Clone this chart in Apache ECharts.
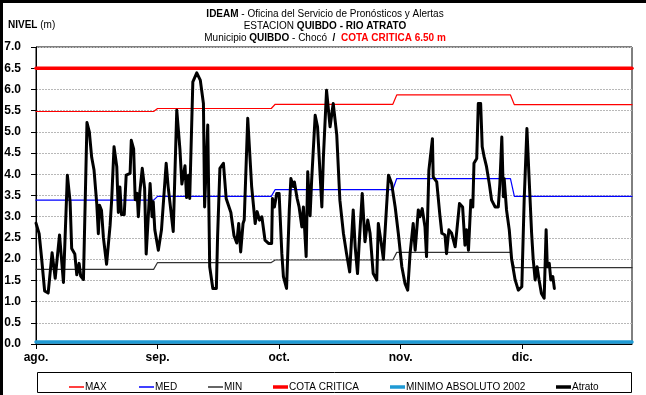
<!DOCTYPE html>
<html>
<head>
<meta charset="utf-8">
<script src="https://cdn.jsdelivr.net/npm/echarts@6/dist/echarts.min.js"></script>
<style>
  html, body { margin: 0; padding: 0; background: #fff; }
  #chart { width: 646px; height: 395px; }
</style>
</head>
<body>
<div id="chart"></div>
<script>
// Axis labels: one label every 31 days, starting 1 August
const monthLabels = ['ago.', 'sep.', 'oct.', 'nov.', 'dic.'];
const monthTickDay = [0, 31, 62, 93, 124];
const axisEndDay = 152;

// Monthly reference levels (m), first and last day of each month
const monthFirstDay = [0, 31, 61, 92, 122];
const monthLastDay = [30, 60, 91, 121, 152];
const maxLevel = [5.48, 5.55, 5.65, 5.87, 5.64];
const medLevel = [3.39, 3.48, 3.64, 3.90, 3.48];
const minLevel = [1.76, 1.92, 1.98, 2.16, 1.80];

const criticalLevel = 6.5;
const absoluteMin2002 = 0.05;

// Río Atrato readings at Quibdó: day offset from 1 August, level in m
const atratoDay = [
  0, 0.8, 1.4, 2.2, 3.1, 4.1, 4.9, 6.0, 7.0, 8.0, 8.7, 9.1, 9.9, 10.4, 11.0, 11.4, 12.1,
  13.0, 13.6, 14.2, 14.8, 15.5, 15.9, 16.2, 16.7, 17.2, 18.0, 18.9, 19.3, 19.9, 20.6, 21.0,
  21.4, 21.8, 22.5, 23.0, 24.0, 24.3, 24.9, 25.3, 25.8, 26.1, 26.5, 27.1, 27.7, 28.1, 29.1,
  29.6, 29.9, 30.3, 31.2, 32.0, 33.2, 33.7, 35.0, 35.9, 36.7, 37.2, 38.0, 38.4, 38.9, 39.2,
  40.0, 41.0, 41.9, 42.7, 43.0, 43.8, 44.3, 45.1, 46.0, 46.3, 46.9, 47.8, 48.5, 49.7, 50.5,
  51.2, 51.7, 52.2, 52.8, 53.1, 54.0, 55.0, 55.9, 56.4, 57.0, 57.6, 58.4, 59.3, 60.1, 60.3,
  60.8, 61.4, 62.0, 62.7, 63.1, 63.9, 64.6, 65.0, 65.6, 65.9, 66.6, 67.1, 67.8, 68.2, 68.9,
  69.3, 69.9, 70.3, 71.2, 71.8, 72.9, 73.3, 74.1, 75.0, 75.8, 76.7, 77.5, 78.4, 79.2, 80.0,
  80.9, 81.4, 82.0, 82.4, 83.2, 83.9, 84.6, 85.2, 86.0, 86.9, 87.3, 88.0, 88.6, 89.4, 89.9,
  90.7, 91.6, 92.4, 93.3, 94.1, 94.8, 95.4, 96.2, 96.7, 97.5, 97.9, 98.5, 99.2, 99.6, 100.2,
  101.1, 101.3, 102.2, 103.0, 103.5, 104.3, 104.7, 105.3, 106.0, 106.4, 106.9, 107.3, 108.0,
  108.8, 109.4, 109.8, 110.3, 110.9, 111.4, 111.7, 112.4, 112.8, 113.4, 113.8, 114.3, 114.9,
  115.6, 116.2, 117.1, 117.9, 118.3, 118.8, 119.2, 119.4, 120.0, 120.7, 121.3, 122.2, 123.0,
  123.9, 124.5, 125.2, 125.7, 126.4, 126.8, 127.3, 127.8, 128.3, 128.9, 129.6, 130.1, 130.4,
  130.9, 131.3, 131.8, 132.2
];
const atratoLevel = [
  2.85, 2.60, 2.05, 1.25, 1.20, 2.15, 1.55, 2.57, 1.45, 3.98, 3.35, 2.25, 2.12, 1.63, 1.90, 1.60, 1.52,
  5.22, 5.00, 4.40, 4.10, 3.30, 2.60, 3.27, 3.15, 2.50, 1.88, 2.80, 3.40, 4.65, 4.18, 3.10,
  3.70, 3.05, 3.05, 3.98, 4.02, 4.80, 4.60, 3.40, 3.55, 3.00, 3.60, 4.14, 3.67, 2.12, 3.78,
  3.00, 3.35, 2.69, 2.21, 2.69, 4.26, 3.71, 2.65, 5.51, 4.60, 3.77, 4.20, 3.45, 3.98, 3.43,
  6.18, 6.39, 6.22, 5.67, 3.23, 5.16, 1.82, 1.31, 1.31, 2.50, 4.14, 4.26, 3.43, 3.10, 2.55,
  2.38, 2.84, 2.17, 2.84, 2.92, 5.32, 3.71, 2.84, 3.12, 2.92, 3.00, 2.45, 2.37, 2.37, 3.43,
  3.23, 3.55, 3.55, 2.13, 1.59, 1.31, 3.16, 3.90, 3.71, 3.82, 3.43, 3.23, 2.76, 3.23, 2.06,
  4.06, 3.02, 3.86, 5.39, 5.12, 3.23, 4.41, 5.98, 5.12, 5.67, 4.93, 3.39, 2.61, 2.13, 1.70,
  3.16, 2.29, 1.66, 2.33, 3.55, 2.41, 2.92, 2.61, 1.66, 1.51, 2.84, 2.41, 2.00, 3.23, 3.98,
  3.78, 3.23, 2.61, 1.82, 1.43, 1.27, 2.13, 2.84, 2.21, 3.16, 3.00, 3.19, 2.76, 2.06, 4.10,
  4.84, 3.94, 3.82, 3.04, 2.61, 2.57, 2.13, 2.69, 2.61, 2.57, 2.29, 2.65, 3.31,
  3.23, 2.33, 2.69, 2.21, 3.39, 3.23, 4.26, 4.37, 5.67, 5.67, 4.65, 4.41, 4.18,
  3.78, 3.39, 3.23, 3.23, 3.78, 4.88, 3.47, 3.90, 3.16, 2.69, 2.00, 1.51, 1.27,
  1.35, 3.39, 5.08, 4.02, 2.61, 2.00, 1.51, 1.82, 1.51, 1.19, 1.08, 2.69, 1.82,
  1.90, 1.51, 1.59, 1.31
];

const FONT = '"Liberation Sans", Arial, sans-serif';

function monthlySteps(values) {
  const pts = [];
  values.forEach((v, m) => {
    pts.push([monthFirstDay[m], v]);
    pts.push([monthLastDay[m], v]);
  });
  return pts;
}
function flatLine(v) {
  return [[0, v], [axisEndDay, v]];
}

const series = [
  { name: 'MAX', color: '#ff0000', width: 1.2, data: monthlySteps(maxLevel) },
  { name: 'MED', color: '#0000ff', width: 1.2, data: monthlySteps(medLevel) },
  { name: 'MIN', color: '#333333', width: 1.2, data: monthlySteps(minLevel) },
  { name: 'COTA CRITICA', color: '#ff0000', width: 3.5, data: flatLine(criticalLevel) },
  { name: 'MINIMO ABSOLUTO 2002', color: '#1f9ad4', width: 3.5, data: flatLine(absoluteMin2002) },
  { name: 'Atrato', color: '#000000', width: 3, data: atratoDay.map((d, i) => [d, atratoLevel[i]]) }
].map(s => ({
  name: s.name,
  type: 'line',
  data: s.data,
  showSymbol: false,
  symbol: 'none',
  color: s.color,
  lineStyle: { color: s.color, width: s.width, join: 'round', cap: 'round' },
  emphasis: { disabled: true },
  animation: false,
  z: 2
}));

// Legend: one entry per component so each sits where it belongs in the box
const legendLeft = [64, 134, 203, 268, 385, 551];
const legendThickness = [1.5, 1.5, 1.5, 3.5, 3.5, 3.5];
const legends = series.map((s, i) => ({
  data: [s.name],
  left: legendLeft[i],
  top: 377,
  icon: 'rect',
  itemWidth: 15,
  itemHeight: legendThickness[i],
  itemGap: 0,
  selectedMode: false,
  textStyle: { fontFamily: FONT, fontSize: 10, color: '#000', padding: [0, 0, 0, -4] }
}));

const chart = echarts.init(document.getElementById('chart'), null, { renderer: 'canvas' });
chart.setOption({
  animation: false,
  backgroundColor: '#fff',
  title: {
    left: 320,
    top: 3,
    textAlign: 'center',
    text: '{b|IDEAM} - Oficina del Servicio de Pronósticos y Alertas\n' +
          'ESTACION {b|QUIBDO - RIO ATRATO}\n' +
          'Municipio {b|QUIBDO} - Chocó  {b|/}  {r|COTA CRITICA 6.50 m}',
    textStyle: {
      fontFamily: FONT, fontSize: 10, fontWeight: 'normal', color: '#000', lineHeight: 12,
      rich: {
        b: { fontFamily: FONT, fontSize: 10, fontWeight: 'bold', color: '#000', lineHeight: 12 },
        r: { fontFamily: FONT, fontSize: 10, fontWeight: 'bold', color: '#ff0000', lineHeight: 12 }
      }
    }
  },
  legend: legends,
  grid: {
    left: 36, right: 14, top: 47, bottom: 51,
    outerBoundsMode: 'none',
    containLabel: false,
    show: true, borderColor: '#000', borderWidth: 1, backgroundColor: 'transparent'
  },
  xAxis: {
    type: 'value',
    min: 0,
    max: axisEndDay,
    interval: 31,
    axisLine: { show: true, onZero: false, lineStyle: { color: '#000', width: 1 } },
    axisTick: { show: true, length: 5, lineStyle: { color: '#000' }, customValues: monthTickDay },
    axisLabel: {
      customValues: monthTickDay,
      formatter: v => monthLabels[monthTickDay.indexOf(v)] || '',
      fontFamily: FONT, fontSize: 12, fontWeight: 'bold', color: '#000', margin: 8
    },
    splitLine: { show: false }
  },
  yAxis: {
    type: 'value',
    min: 0,
    max: 7,
    interval: 0.5,
    name: '{b|NIVEL} (m)',
    nameLocation: 'end',
    nameGap: 17,
    nameTextStyle: {
      align: 'left', padding: [0, 0, 0, -28],
      fontFamily: FONT, fontSize: 10, color: '#000',
      rich: { b: { fontFamily: FONT, fontSize: 10, fontWeight: 'bold', color: '#000' } }
    },
    axisLine: { show: true, lineStyle: { color: '#000', width: 1 } },
    axisTick: { show: true, length: 5, lineStyle: { color: '#000' } },
    axisLabel: {
      formatter: v => v.toFixed(1),
      fontFamily: FONT, fontSize: 12, fontWeight: 'bold', color: '#000', margin: 15
    },
    splitLine: { show: true, lineStyle: { color: '#b8b8b8', type: [2, 1], width: 1 } }
  },
  graphic: [
    { type: 'rect', shape: { x: 37.5, y: 372.5, width: 594, height: 20 },
      style: { fill: null, stroke: '#000', lineWidth: 1 }, silent: true },
    { type: 'line', shape: { x1: 0, y1: 1.5, x2: 646, y2: 1.5 },
      style: { stroke: '#000', lineWidth: 3 }, silent: true },
    { type: 'line', shape: { x1: 1.5, y1: 0, x2: 1.5, y2: 395 },
      style: { stroke: '#000', lineWidth: 3 }, silent: true }
  ],
  series: series
});
</script>
</body>
</html>
